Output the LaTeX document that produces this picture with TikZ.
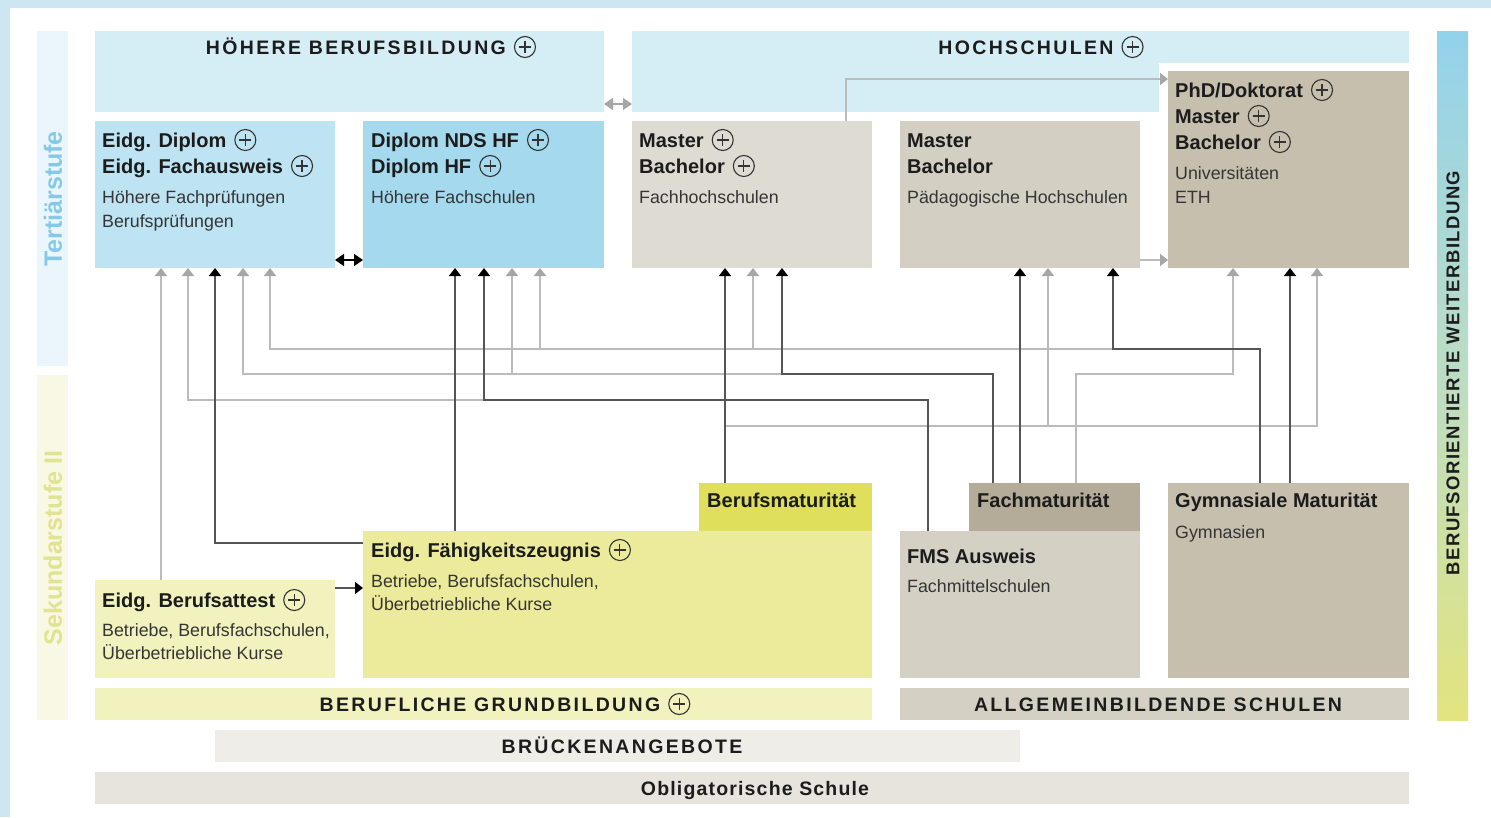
\documentclass[tikz,border=0pt]{standalone}
\usepackage{fontspec}
\setmainfont{Liberation Sans}
\usetikzlibrary{arrows.meta,calc}
\definecolor{cFrame}{HTML}{CDE6F2}
\definecolor{cBand}{HTML}{D5EDF5}
\definecolor{cDipl}{HTML}{BEE4F3}
\definecolor{cHF}{HTML}{A5D9EE}
\definecolor{cFH}{HTML}{DEDBD3}
\definecolor{cPH}{HTML}{D4CFC3}
\definecolor{cUni}{HTML}{C6BFAD}
\definecolor{cAttest}{HTML}{F1F2BE}
\definecolor{cEFZ}{HTML}{ECEB9B}
\definecolor{cBM}{HTML}{DFDF5B}
\definecolor{cFMS}{HTML}{D4D0C4}
\definecolor{cFM}{HTML}{B4AC98}
\definecolor{cBrueck}{HTML}{EFEDE8}
\definecolor{cOblig}{HTML}{E7E4DE}
\definecolor{cTertBar}{HTML}{EAF6FB}
\definecolor{cTertTxt}{HTML}{86C8E8}
\definecolor{cSekBar}{HTML}{F8F8E4}
\definecolor{cSekTxt}{HTML}{E0E38F}
\definecolor{cRTop}{HTML}{93D2EC}
\definecolor{cRMid}{HTML}{BCDDC4}
\definecolor{cRBot}{HTML}{E3E47E}
\definecolor{cHd}{HTML}{1C1C1C}
\definecolor{cTx}{HTML}{353535}
\definecolor{cLGray}{HTML}{BBBBBB}
\definecolor{cTGray}{HTML}{A6A6A6}
\definecolor{cDGray}{HTML}{555555}
\newcommand{\pc}{\hspace{8pt}\tikz[x=1pt,y=1pt,baseline=0pt,line width=1.1pt]{\draw[draw=black!80] (11,7) circle (10.5); \draw[draw=black!80] (5,7)--(17,7) (11,1)--(11,13);}}
\tikzset{
  box/.style={anchor=north west, inner sep=0pt, outer sep=0pt, draw=none},
  hd/.style={anchor=base west, inner sep=0pt, font=\fontsize{20}{24}\selectfont\bfseries, text=cHd},
  tx/.style={anchor=base west, inner sep=0pt, font=\fontsize{17.8}{21}\selectfont, text=cTx},
  bandtxt/.style={anchor=base, inner sep=0pt, font=\fontsize{19.5}{23}\selectfont\bfseries\addfontfeatures{LetterSpace=12}, text=cHd},
  sidetxt/.style={rotate=90, inner sep=0pt, font=\fontsize{25}{30}\selectfont\bfseries},
  gline/.style={draw=cLGray, line width=1.5pt, -{Triangle[width=12pt,length=8pt,color=cTGray]}},
  dline/.style={draw=cDGray, line width=1.6pt, -{Triangle[width=12pt,length=8pt,color=black]}},
  gdbl/.style={draw=cTGray, line width=1.5pt, {Triangle[width=12pt,length=9pt]}-{Triangle[width=12pt,length=9pt]}},
  ddbl/.style={draw=black, line width=1.5pt, {Triangle[width=12pt,length=9pt]}-{Triangle[width=12pt,length=9pt]}}
}
\begin{document}
\begin{tikzpicture}[x=1pt,y=-1pt]
\useasboundingbox (0,0) rectangle (1491,817);
\fill[white] (0,0) rectangle (1491,817);
\fill[cFrame] (0,0) rectangle (1491,8);
\fill[cFrame] (0,0) rectangle (10,817);

% side bars
\node[box, fill=cTertBar, minimum width=31pt, minimum height=335pt] (tert) at (37,31) {};
\node[sidetxt, text=cTertTxt] (tertt) at (53,199) {Tertiärstufe};
\node[box, fill=cSekBar, minimum width=31pt, minimum height=345pt] (sek) at (37,375) {};
\node[sidetxt, text=cSekTxt] (sekt) at (53,548) {Sekundarstufe II};
\node[box, top color=cRTop, bottom color=cRBot, middle color=cRMid, minimum width=31pt, minimum height=689pt] (weiter) at (1437,31) {};
\node[rotate=90, inner sep=0pt, font=\fontsize{18.5}{22}\selectfont\bfseries\addfontfeatures{LetterSpace=8}, text=cHd] (weitert) at (1453,373) {BERUFSORIENTIERTE WEITERBILDUNG};

% top bands
\node[box, fill=cBand, minimum width=509pt, minimum height=81pt] (hbb) at (95,31) {};
\node[bandtxt] (hbbt) at (371,54) {HÖHERE BERUFSBILDUNG\pc};
\node[box, fill=cBand, minimum width=527pt, minimum height=81pt] (hs) at (632,31) {};
\node[box, fill=cBand, minimum width=251pt, minimum height=32pt] (hsx) at (1158,31) {};
\node[bandtxt] (hst) at (1041,54) {HOCHSCHULEN\pc};

% tertiary boxes
\node[box, fill=cDipl, minimum width=240pt, minimum height=147pt] (dipl) at (95,121) {};
\node[hd] (dipl1) at (102,147) {Eidg. Diplom\pc};
\node[hd] (dipl2) at (102,173) {Eidg. Fachausweis\pc};
\node[tx] (dipl3) at (102,203) {Höhere Fachprüfungen};
\node[tx] (dipl4) at (102,227) {Berufsprüfungen};

\node[box, fill=cHF, minimum width=241pt, minimum height=147pt] (hf) at (363,121) {};
\node[hd] (hf1) at (371,147) {Diplom NDS HF\pc};
\node[hd] (hf2) at (371,173) {Diplom HF\pc};
\node[tx] (hf3) at (371,203) {Höhere Fachschulen};

\node[box, fill=cFH, minimum width=240pt, minimum height=147pt] (fh) at (632,121) {};
\node[hd] (fh1) at (639,147) {Master\pc};
\node[hd] (fh2) at (639,173) {Bachelor\pc};
\node[tx] (fh3) at (639,203) {Fachhochschulen};

\node[box, fill=cPH, minimum width=240pt, minimum height=147pt] (ph) at (900,121) {};
\node[hd] (ph1) at (907,147) {Master};
\node[hd] (ph2) at (907,173) {Bachelor};
\node[tx] (ph3) at (907,203) {Pädagogische Hochschulen};

\node[box, fill=cUni, minimum width=241pt, minimum height=197pt] (uni) at (1168,71) {};
\node[hd] (uni1) at (1175,97) {PhD/Doktorat\pc};
\node[hd] (uni2) at (1175,123) {Master\pc};
\node[hd] (uni3) at (1175,149) {Bachelor\pc};
\node[tx] (uni4) at (1175,179) {Universitäten};
\node[tx] (uni5) at (1175,203) {ETH};

% secondary boxes
\node[box, fill=cAttest, minimum width=240pt, minimum height=98pt] (attest) at (95,580) {};
\node[hd] (att1) at (102,607) {Eidg. Berufsattest\pc};
\node[tx] (att2) at (102,636) {Betriebe, Berufsfachschulen,};
\node[tx] (att3) at (102,659) {Überbetriebliche Kurse};

\node[box, fill=cEFZ, minimum width=509pt, minimum height=147pt] (efz) at (363,531) {};
\node[box, fill=cBM, minimum width=173pt, minimum height=48pt] (bm) at (699,483) {};
\node[hd] (efz1) at (371,557) {Eidg. Fähigkeitszeugnis\pc};
\node[tx] (efz2) at (371,587) {Betriebe, Berufsfachschulen,};
\node[tx] (efz3) at (371,610) {Überbetriebliche Kurse};
\node[hd] (bm1) at (707,507) {Berufsmaturität};

\node[box, fill=cFMS, minimum width=240pt, minimum height=147pt] (fms) at (900,531) {};
\node[box, fill=cFM, minimum width=171pt, minimum height=48pt] (fm) at (969,483) {};
\node[hd] (fm1) at (977,507) {Fachmaturität};
\node[hd] (fms1) at (907,563) {FMS Ausweis};
\node[tx] (fms2) at (907,592) {Fachmittelschulen};

\node[box, fill=cUni, minimum width=241pt, minimum height=195pt] (gym) at (1168,483) {};
\node[hd] (gym1) at (1175,507) {Gymnasiale Maturität};
\node[tx] (gym2) at (1175,538) {Gymnasien};

% bottom bands
\node[box, fill=cAttest, minimum width=777pt, minimum height=32pt] (bgb) at (95,688) {};
\node[bandtxt] (bgbt) at (505,711) {BERUFLICHE GRUNDBILDUNG\pc};
\node[box, fill=cFMS, minimum width=509pt, minimum height=32pt] (ags) at (900,688) {};
\node[bandtxt] (agst) at (1158,711) {ALLGEMEINBILDENDE SCHULEN};
\node[box, fill=cBrueck, minimum width=805pt, minimum height=32pt] (brueck) at (215,730) {};
\node[bandtxt] (bruekt) at (622,753) {BRÜCKENANGEBOTE};
\node[box, fill=cOblig, minimum width=1314pt, minimum height=32pt] (oblig) at (95,772) {};
\node[bandtxt, font=\fontsize{19.5}{23}\selectfont\bfseries\addfontfeatures{LetterSpace=6}] (obligt) at (755,795) {Obligatorische Schule};

% gray connectors
\draw[gline] ([xshift=66pt]attest.north west) -- ([xshift=66pt]dipl.south west);
\draw[gline] ([xshift=28pt]fms.north west) -- ++(0,-131) -| ([xshift=93pt]dipl.south west);
\draw[gline] ([xshift=24pt]fm.north west) -- ++(0,-109) -| ([xshift=148pt]dipl.south west);
\draw[gline] ([xshift=24pt]fm.north west) -- ++(0,-109) -| ([xshift=149pt]hf.south west);
\draw[gline] ([xshift=107pt]fm.north west) -- ++(0,-109) -| ([xshift=65pt]uni.south west);
\draw[gline] ([xshift=92pt]gym.north west) -- ++(0,-134) -| ([xshift=175pt]dipl.south west);
\draw[gline] ([xshift=92pt]gym.north west) -- ++(0,-134) -| ([xshift=177pt]hf.south west);
\draw[gline] ([xshift=92pt]gym.north west) -- ++(0,-134) -| ([xshift=121pt]fh.south west);
\draw[gline] ([xshift=26pt]bm.north west) -- ++(0,-57) -| ([xshift=148pt]ph.south west);
\draw[gline] ([xshift=26pt]bm.north west) -- ++(0,-57) -| ([xshift=149pt]uni.south west);
\draw[gline] ([yshift=8pt]ph.south east) -- ([yshift=8pt]uni.south west);
\draw[gline] ([xshift=94pt]fh.north) |- ([yshift=-8pt]uni.north west);
\draw[gdbl] ([yshift=8pt]hbb.south east) -- ([yshift=8pt]hs.south west);

% dark connectors
\draw[dline] ([yshift=-12pt]efz.north west) -| ([xshift=120pt]dipl.south west);
\draw[dline] ([xshift=92pt]efz.north west) -- ([xshift=92pt]hf.south west);
\draw[dline] ([xshift=28pt]fms.north west) -- ++(0,-131) -| ([xshift=121pt]hf.south west);
\draw[dline] ([xshift=26pt]bm.north west) -- ([xshift=93pt]fh.south west);
\draw[dline] ([xshift=24pt]fm.north west) -- ++(0,-109) -| ([xshift=150pt]fh.south west);
\draw[dline] ([xshift=51pt]fm.north west) -- ([xshift=120pt]ph.south west);
\draw[dline] ([xshift=92pt]gym.north west) -- ++(0,-134) -| ([xshift=213pt]ph.south west);
\draw[dline] ([xshift=122pt]gym.north west) -- ([xshift=122pt]uni.south west);
\draw[dline] ([yshift=-8pt]attest.north east) -- ++(28,0);
\draw[ddbl] ([yshift=8pt]dipl.south east) -- ([yshift=8pt]hf.south west);
\end{tikzpicture}
\end{document}
